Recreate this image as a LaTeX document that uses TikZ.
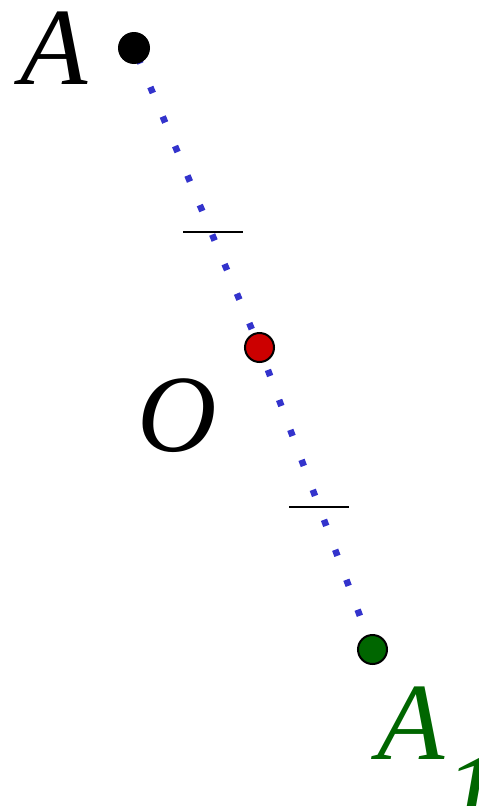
\documentclass[tikz,border=0pt]{standalone}
\usepackage{fontspec}
\setmainfont{Liberation Serif}
\definecolor{dotblue}{RGB}{51,51,204}
\definecolor{ptred}{RGB}{204,0,0}
\definecolor{ptgreen}{RGB}{0,102,0}
\begin{document}
\begin{tikzpicture}[x=1pt,y=-1pt,
  ptdot/.style={circle,draw=black,line width=2pt,minimum size=29pt,inner sep=0pt},
  dots/.style={dotblue,line width=6.5pt,dash pattern=on 6.5pt off 25.5pt},
  tickmark/.style={black,line width=2pt},
  lbl/.style={font=\fontsize{110}{112}\selectfont\itshape,inner sep=0pt,anchor=base west}]
\useasboundingbox (0,0) rectangle (479,806);
\coordinate (cA) at (134,48);
\coordinate (cO) at (259.5,347.5);
\coordinate (cA1) at (372.5,649.5);
\coordinate (t1a) at (183,231.5);
\coordinate (t1b) at (243,231.5);
\coordinate (t2a) at (289,507);
\coordinate (t2b) at (349,507);
\draw[dots,dash phase=12.05pt] (cO) -- (cA);
\draw[dots,dash phase=8.05pt] (cO) -- (cA1);
\draw[tickmark] (t1a) -- (t1b);
\draw[tickmark] (t2a) -- (t2b);
\node[circle,fill=black,minimum size=32pt,inner sep=0pt] (A) at (cA) {};
\node[ptdot,fill=ptred] (O) at (cO) {};
\node[ptdot,fill=ptgreen] (A1) at (cA1) {};
\node[lbl] (LA) at (20,84) {A};
\node[lbl] (LO) at (137,451) {O};
\node[lbl,text=ptgreen] (LA1) at (377,759) {A\raisebox{-70pt}{1}};
\end{tikzpicture}
\end{document}
